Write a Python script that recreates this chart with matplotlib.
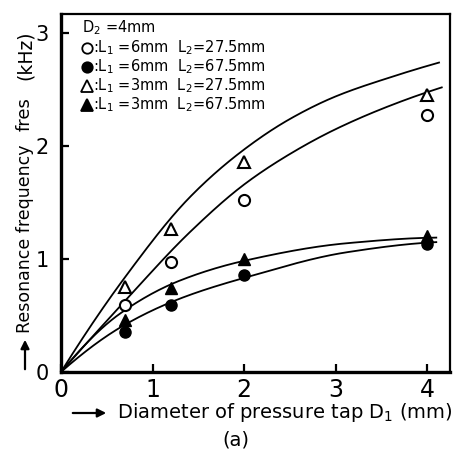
import numpy as np
import matplotlib
matplotlib.use("Agg")
import matplotlib.pyplot as plt

plt.rcParams['font.family'] = ['DejaVu Sans']
plt.rcParams['mathtext.default'] = 'regular'

# Measured resonance frequencies (kHz) against tap diameter D1 (mm)
d1 = [0.7, 1.2, 2.0, 4.0]
f_l6_l27 = [0.59, 0.97, 1.52, 2.28]   # open circles
f_l6_l67 = [0.35, 0.59, 0.86, 1.13]   # filled circles
f_l3_l27 = [0.75, 1.27, 1.86, 2.45]   # open triangles
f_l3_l67 = [0.46, 0.74, 1.00, 1.20]   # filled triangles

# Calculated curves (nodes along each curve)
calc_l3_l27_x = [0.0, 0.7, 1.41, 2.0, 2.5, 3.0, 3.6, 4.13]
calc_l3_l27_y = [0.0, 0.84, 1.55, 1.97, 2.24, 2.44, 2.61, 2.74]
calc_l6_l27_x = [0.0, 0.7, 1.41, 2.0, 2.5, 3.0, 3.6, 4.16]
calc_l6_l27_y = [0.0, 0.63, 1.24, 1.66, 1.93, 2.15, 2.36, 2.52]
calc_l3_l67_x = [0.0, 0.65, 1.30, 2.03, 3.12, 4.10]
calc_l3_l67_y = [0.0, 0.52, 0.81, 0.99, 1.14, 1.19]
calc_l6_l67_x = [0.0, 0.68, 1.30, 2.03, 3.12, 4.10]
calc_l6_l67_y = [0.0, 0.41, 0.65, 0.84, 1.06, 1.15]

x_ticks = [0, 1, 2, 3, 4]
y_ticks = [0, 1, 2, 3]


def pchip(xk, yk, xs):
    xk = np.asarray(xk, float)
    yk = np.asarray(yk, float)
    h = np.diff(xk)
    d = np.diff(yk) / h
    n = len(xk)
    m = np.zeros(n)
    for k in range(1, n - 1):
        if d[k - 1] * d[k] > 0:
            w1 = 2 * h[k] + h[k - 1]
            w2 = h[k] + 2 * h[k - 1]
            m[k] = (w1 + w2) / (w1 / d[k - 1] + w2 / d[k])
    m[0] = ((2 * h[0] + h[1]) * d[0] - h[0] * d[1]) / (h[0] + h[1])
    if np.sign(m[0]) != np.sign(d[0]):
        m[0] = 0
    m[-1] = ((2 * h[-1] + h[-2]) * d[-1] - h[-1] * d[-2]) / (h[-1] + h[-2])
    if np.sign(m[-1]) != np.sign(d[-1]):
        m[-1] = 0
    idx = np.clip(np.searchsorted(xk, xs) - 1, 0, n - 2)
    t = (xs - xk[idx]) / h[idx]
    h00 = 2 * t**3 - 3 * t**2 + 1
    h10 = t**3 - 2 * t**2 + t
    h01 = -2 * t**3 + 3 * t**2
    h11 = t**3 - t**2
    return (h00 * yk[idx] + h10 * h[idx] * m[idx]
            + h01 * yk[idx + 1] + h11 * h[idx] * m[idx + 1])


W, H = 465, 450
fig = plt.figure(figsize=(W / 100, H / 100), dpi=100)
ax = fig.add_axes([61 / W, 78 / H, (450 - 61) / W, (372 - 14) / H])
ax.set_xlim(0, 4.25)
ax.set_ylim(0, 3.17)

for cx, cy in [(calc_l3_l27_x, calc_l3_l27_y), (calc_l6_l27_x, calc_l6_l27_y),
               (calc_l3_l67_x, calc_l3_l67_y), (calc_l6_l67_x, calc_l6_l67_y)]:
    xs = np.linspace(cx[0], cx[-1], 300)
    ax.plot(xs, pchip(cx, cy, xs), color='black', lw=1.3, zorder=2)

mk = dict(color='black', ls='none', zorder=3, clip_on=False)
ax.plot(d1, f_l6_l27, marker='o', ms=8, mfc='white', mec='black', mew=1.5, **mk)
ax.plot(d1, f_l6_l67, marker='o', ms=8, mfc='black', mec='black', **mk)
ax.plot(d1, f_l3_l27, marker='^', ms=9, mfc='white', mec='black', mew=1.5, **mk)
ax.plot(d1, f_l3_l67, marker='^', ms=9, mfc='black', mec='black', **mk)

# Spines and ticks
for side in ['left', 'bottom']:
    ax.spines[side].set_linewidth(2.4)
for side in ['top', 'right']:
    ax.spines[side].set_linewidth(1.6)
ax.set_xticks(x_ticks)
ax.set_yticks(y_ticks)
ax.set_xticklabels([str(v) for v in x_ticks])
ax.set_yticklabels([str(v) for v in y_ticks])
ax.tick_params(axis='both', direction='in', length=6, width=1.6)
ax.tick_params(axis='x', labelsize=17, pad=4)
ax.tick_params(axis='y', labelsize=15, pad=9)

# Key in the upper left corner
def ax_xy(px, py):
    return (px - 61) / (450 - 61), (372 - py) / (372 - 14)

fs_key = 10.5
tx, ty = ax_xy(82, 28)
ax.text(tx, ty, r'$D_2$ =4mm', transform=ax.transAxes, fontsize=fs_key,
        va='center', ha='left')
key_rows = [
    ('o', 'white', r':$L_1$ =6mm  $L_2$=27.5mm'),
    ('o', 'black', r':$L_1$ =6mm  $L_2$=67.5mm'),
    ('^', 'white', r':$L_1$ =3mm  $L_2$=27.5mm'),
    ('^', 'black', r':$L_1$ =3mm  $L_2$=67.5mm'),
]
for i, (m, fc, label) in enumerate(key_rows):
    py = 48 + i * 19
    mx, my = ax_xy(87, py)
    ax.plot([mx], [my], marker=m, ms=7.5 if m == 'o' else 8.5, mfc=fc,
            mec='black', mew=1.3, transform=ax.transAxes, ls='none')
    lx, ly = ax_xy(93, py)
    ax.text(lx, ly, label, transform=ax.transAxes, fontsize=fs_key,
            va='center', ha='left')

# Axis titles with leading arrows
def fx(px):
    return px / W

def fy(py):
    return 1 - py / H

fig.text(fx(117), fy(413), r'Diameter of pressure tap $D_1$ (mm)',
         fontsize=14, ha='left', va='center')
fig.add_artist(matplotlib.patches.FancyArrowPatch(
    (fx(70), fy(413)), (fx(109), fy(413)), transform=fig.transFigure,
    arrowstyle='-|>,head_length=5,head_width=2.5', color='black', lw=1.6))
fig.text(fx(236), fy(440), '(a)', fontsize=14, ha='center', va='center')

fig.text(fx(25), fy(333), 'Resonance frequency', fontsize=12.5,
         rotation=90, ha='center', va='bottom')
fig.text(fx(25), fy(131), 'fres', fontsize=13,
         rotation=90, ha='center', va='bottom')
fig.text(fx(25), fy(80), '(kHz)', fontsize=13.5,
         rotation=90, ha='center', va='bottom')
fig.add_artist(matplotlib.patches.FancyArrowPatch(
    (fx(25), fy(372)), (fx(25), fy(337)), transform=fig.transFigure,
    arrowstyle='-|>,head_length=5,head_width=2.5', color='black', lw=1.6))

fig.savefig('out.png', dpi=100)
